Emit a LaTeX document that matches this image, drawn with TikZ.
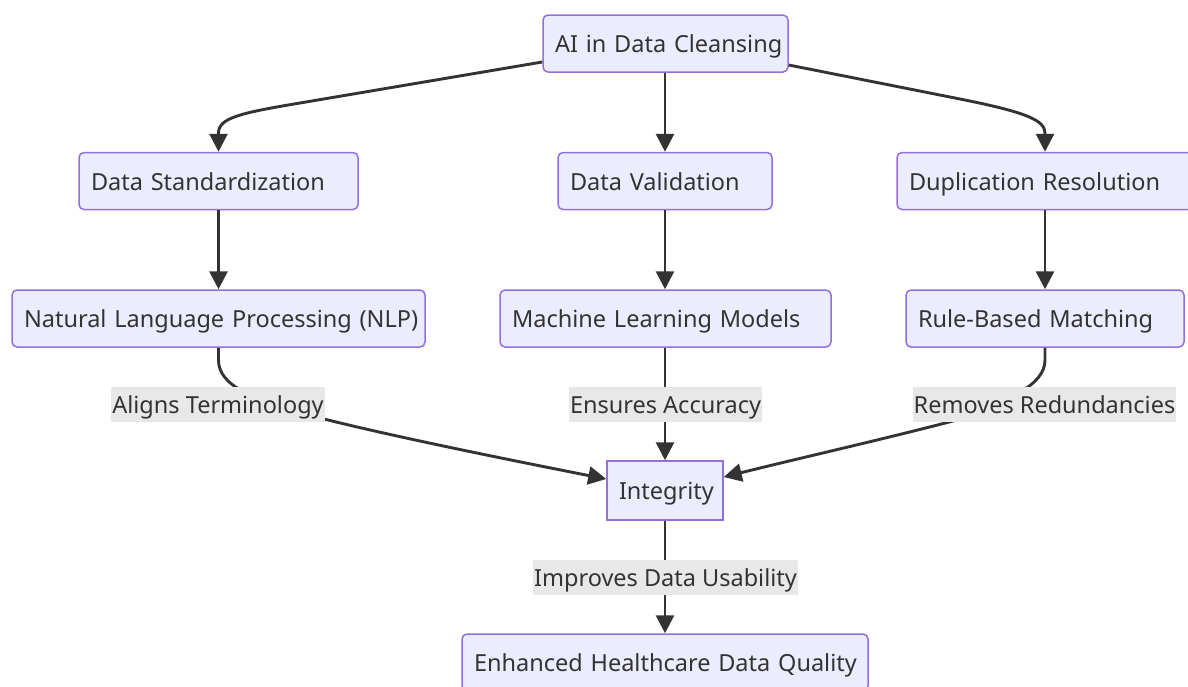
\documentclass[tikz,border=0pt]{standalone}
\usepackage{fontspec}
\setmainfont{Noto Sans}
\usetikzlibrary{arrows.meta}
\definecolor{nodefill}{HTML}{ECECFF}
\definecolor{nodeline}{HTML}{9370DB}
\definecolor{ink}{HTML}{333333}
\definecolor{labelbg}{HTML}{E8E8E8}
\begin{document}
\begin{tikzpicture}[x=1pt,y=-1pt,
  txt/.style={text=ink, font=\fontsize{23.5}{28}\selectfont, text height=19pt, text depth=1pt},
  box/.style={txt, draw=nodeline, line width=1.5pt, fill=nodefill, rounded corners=5pt,
    minimum height=57pt, inner xsep=12pt, inner ysep=0pt, align=left},
  sqbox/.style={txt, draw=nodeline, line width=1.5pt, fill=nodefill,
    minimum height=59pt, inner xsep=12pt, inner ysep=0pt, align=center},
  lbl/.style={txt, fill=labelbg, minimum height=35pt, inner xsep=1pt, inner ysep=0pt},
  edge/.style={draw=ink, line width=2.9pt, -{Triangle[length=18pt,width=18pt]}}]
\useasboundingbox (0,0) rectangle (1188,686);
% nodes
\node[box, text width=221pt] (top) at (665.5,43.5) {\mbox{AI in Data Cleansing}};
\node[box, text width=255pt] (ds)  at (218.5,181) {\mbox{Data Standardization}};
\node[box, text width=190pt] (dv)  at (665,181) {\mbox{Data Validation}};
\node[box, text width=272pt] (dr)  at (1045,181) {\mbox{Duplication Resolution}};
\node[box, text width=389pt] (nlp) at (218.5,318.5) {\mbox{Natural Language Processing (NLP)}};
\node[box, text width=307pt] (ml)  at (665.5,318.5) {\mbox{Machine Learning Models}};
\node[box, text width=254pt] (rbm) at (1045,318.5) {\mbox{Rule-Based Matching}};
\node[sqbox, text width=92pt] (int) at (665,490.5) {Integrity};
\node[box, text width=382pt] (enh) at (665,662.5) {\mbox{Enhanced Healthcare Data Quality}};
% edges
\draw[edge] ([yshift=-18.5pt]top.west) -- (300,103) .. controls (240,113) and (218.5,118) .. (218.5,133) -- (ds.north);
\draw[edge] (top.south -| dv.north) -- (dv.north);
\draw[edge] ([yshift=-21.5pt]top.east) -- (960,99) .. controls (1025,112) and (1045,120) .. (1045,133) -- (dr.north);
\draw[edge] (ds.south) -- (nlp.north);
\draw[edge] (dv.south) -- (dv.south |- ml.north);
\draw[edge] (dr.south) -- (rbm.north);
\draw[edge] (nlp.south) -- (218.5,360) .. controls (218.5,385) and (250,400) .. (324,419) .. controls (400,438) and (520,462) .. ([yshift=11.5pt]int.west);
\draw[edge] (ml.south -| int.north) -- (int.north);
\draw[edge] (rbm.south) -- (1045,360) .. controls (1045,385) and (1010,400) .. (953,421) .. controls (880,440) and (800,458) .. ([yshift=13.5pt]int.east);
\draw[edge] (int.south) -- (enh.north);
% edge labels
\node[lbl] (l1) at (218,404) {Aligns Terminology};
\node[lbl] (l2) at (665.5,404.5) {Ensures Accuracy};
\node[lbl] (l3) at (1044.5,404) {Removes Redundancies};
\node[lbl] (l4) at (665.5,577) {Improves Data Usability};
\end{tikzpicture}
\end{document}
